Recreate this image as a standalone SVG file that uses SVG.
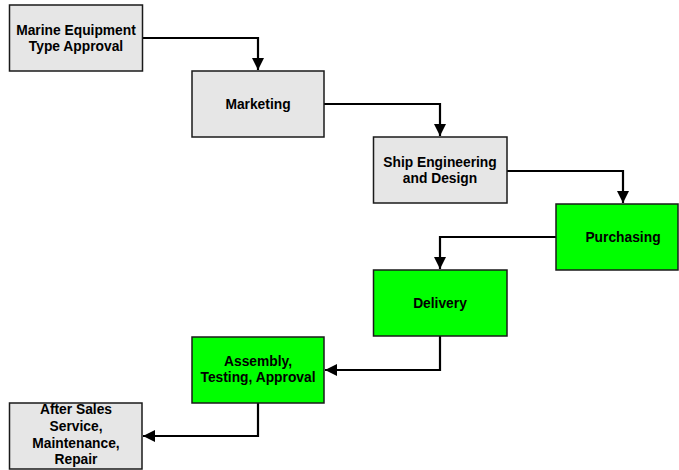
<svg xmlns="http://www.w3.org/2000/svg" width="679" height="470" viewBox="0 0 679 470">
<style>
.box{stroke:#1a1a1a;stroke-width:1.5}
.gray{fill:#e6e6e6}
.green{fill:#00ff00}
.lbl{font-family:"Liberation Sans",Arial,sans-serif;font-weight:bold;font-size:13.8px;fill:#000;text-anchor:middle}
.conn{fill:none;stroke:#000;stroke-width:2.2}
</style>
<defs>
<marker id="ah" viewBox="0 0 12 12" refX="12" refY="6" markerWidth="12" markerHeight="12" markerUnits="userSpaceOnUse" orient="auto">
<path d="M0,0 L12,6 L0,12 Z" fill="#000"/>
</marker>
</defs>
<g id="connectors">
<path class="conn" d="M142,38 H258 V70" marker-end="url(#ah)"/>
<path class="conn" d="M324,104 H440 V136" marker-end="url(#ah)"/>
<path class="conn" d="M507,171 H623 V203" marker-end="url(#ah)"/>
<path class="conn" d="M556,237 H440 V269" marker-end="url(#ah)"/>
<path class="conn" d="M440,336 V370 H325" marker-end="url(#ah)"/>
<path class="conn" d="M258,403 V436 H143" marker-end="url(#ah)"/>
</g>
<g id="n1">
<rect class="box gray" x="9.5" y="5" width="133" height="66"/>
<text class="lbl" x="76" y="35">Marine Equipment</text>
<text class="lbl" x="76" y="51">Type Approval</text>
</g>
<g id="n2">
<rect class="box gray" x="192" y="71" width="132" height="66"/>
<text class="lbl" x="258" y="109">Marketing</text>
</g>
<g id="n3">
<rect class="box gray" x="373.5" y="137" width="133.5" height="66"/>
<text class="lbl" x="440" y="167">Ship Engineering</text>
<text class="lbl" x="440" y="183">and Design</text>
</g>
<g id="n4">
<rect class="box green" x="556" y="204" width="122" height="66"/>
<text class="lbl" x="623" y="242">Purchasing</text>
</g>
<g id="n5">
<rect class="box green" x="373.5" y="270" width="133.5" height="66"/>
<text class="lbl" x="440" y="308">Delivery</text>
</g>
<g id="n6">
<rect class="box green" x="192" y="337" width="132" height="66"/>
<text class="lbl" x="258" y="366">Assembly,</text>
<text class="lbl" x="258" y="382">Testing, Approval</text>
</g>
<g id="n7">
<rect class="box gray" x="9.5" y="403" width="132.5" height="66"/>
<text class="lbl" x="76" y="414">After Sales</text>
<text class="lbl" x="76" y="431">Service,</text>
<text class="lbl" x="76" y="448">Maintenance,</text>
<text class="lbl" x="76" y="464">Repair</text>
</g>
</svg>
